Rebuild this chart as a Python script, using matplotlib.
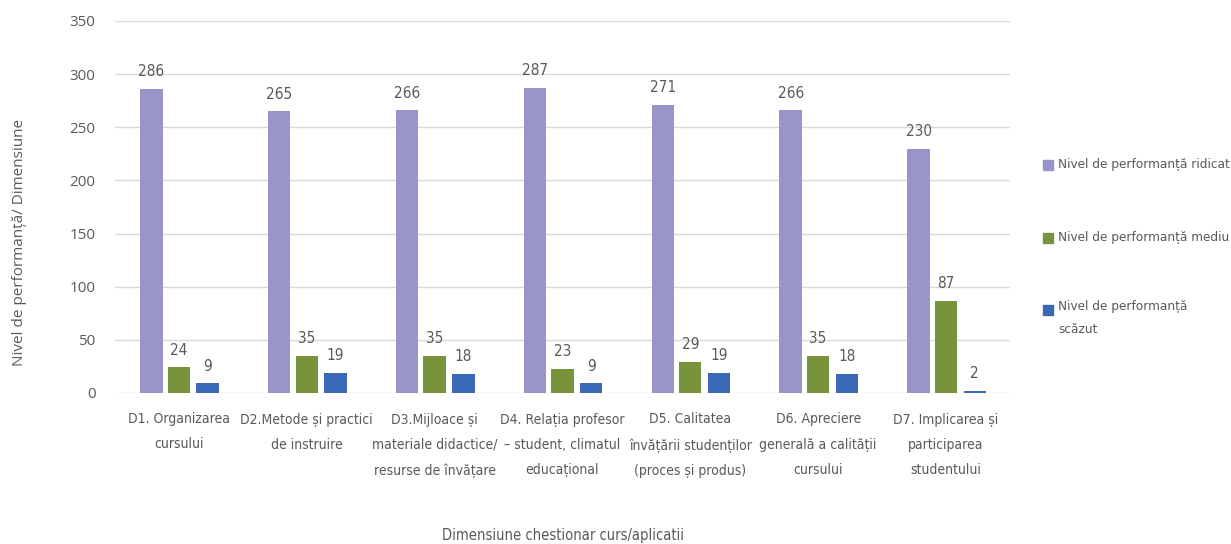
import matplotlib.pyplot as plt
import matplotlib.patches as mpatches
import numpy as np

categories = ['D1. Organizarea\ncursului', 'D2.Metode și practici\nde instruire',
              'D3.Mijloace și\nmateriale didactice/\nresurse de învățare',
              'D4. Relația profesor\n– student, climatul\neducațional',
              'D5. Calitatea\nînvățării studenților\n(proces și produs)',
              'D6. Apreciere\ngenerală a calității\ncursului',
              'D7. Implicarea și\nparticiparea\nstudentului']
ridicat = [286, 265, 266, 287, 271, 266, 230]
mediu = [24, 35, 35, 23, 29, 35, 87]
scazut = [9, 19, 18, 9, 19, 18, 2]
series_names = ['Nivel de performanță ridicat', 'Nivel de performanță mediu',
                'Nivel de performanță\nscăzut']

colors = ['#9795C9', '#77933C', '#3A68B5']
grey = '#595959'
cond = dict(family='DejaVu Sans', stretch='condensed', color=grey)

fig = plt.figure(figsize=(12.31, 5.44), dpi=100)
ax = fig.add_axes([0.0934, 0.2776, 0.727, 0.6838])

x = np.arange(len(categories))
width = 0.175
offsets = [-0.215, 0, 0.225]
for vals, off, c in zip([ridicat, mediu, scazut], offsets, colors):
    bars = ax.bar(x + off, vals, width, color=c, zorder=3)
    for b, v in zip(bars, vals):
        ax.annotate(str(v), (b.get_x() + b.get_width() / 2, v), xytext=(0, 7),
                    textcoords='offset points', ha='center', va='bottom',
                    fontsize=11, **cond)

ax.set_ylim(0, 350)
ax.set_xlim(-0.5, len(categories) - 0.5)
ax.set_yticks(range(0, 351, 50))
ax.grid(axis='y', color='#D9D9D9', linewidth=1, zorder=0)
for s in ax.spines.values():
    s.set_visible(False)
ax.tick_params(axis='both', length=0, colors=grey)
ax.tick_params(axis='y', labelsize=11, pad=14)
for t in ax.get_yticklabels():
    t.set_family('Open Sans')
ax.set_xticks(x)
ax.set_xticklabels(categories, fontsize=10, linespacing=2.0, **cond)
ax.tick_params(axis='x', pad=14)

fig.text(0.016, 0.555, 'Nivel de performanță/ Dimensiune', rotation=90, ha='center',
         va='center', fontsize=11, color=grey, family='Open Sans')
fig.text(0.457, 0.015, 'Dimensiune chestionar curs/aplicatii', ha='center', va='center',
         fontsize=10.5, **cond)

# legend drawn by hand
leg_y = [0.697, 0.563, 0.431]
for name, c, yy in zip(series_names, colors, leg_y):
    fig.patches.append(mpatches.Rectangle((0.8475, yy - 0.01), 0.0075, 0.019,
                                          transform=fig.transFigure, color=c))
    if '\n' in name:
        fig.text(0.8595, yy + 0.017, name, ha='left', va='top', fontsize=9.7,
                 linespacing=1.95, **cond)
    else:
        fig.text(0.8595, yy, name, ha='left', va='center', fontsize=9.7, **cond)

fig.savefig('out.png', dpi=100)
